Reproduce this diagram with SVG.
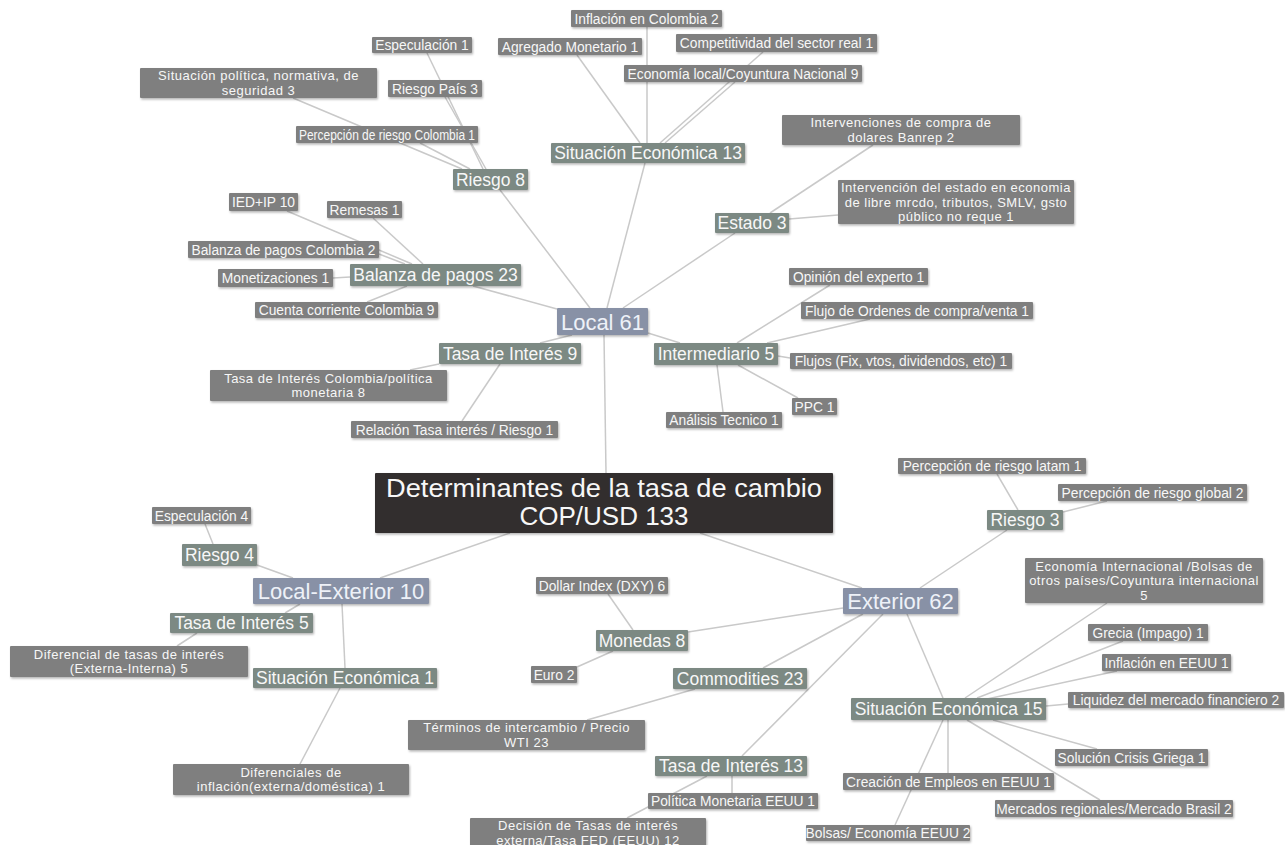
<svg xmlns="http://www.w3.org/2000/svg" width="1285" height="845" viewBox="0 0 1285 845">
<style>
text{font-family:"Liberation Sans",Arial,sans-serif;text-anchor:middle;fill:#f7f7f7}
.l rect{fill:#7f7f7f}
.l text{font-size:13.8px}
.l text.w{font-size:13px;letter-spacing:0.5px}
.m rect{fill:#7b8983}
.m text{font-size:17.5px}
.t rect{fill:#8891a6}
.t text{font-size:22px;fill:#eef1f8}
.r rect{fill:#322e2d}
.r text{font-size:26px}
#edges line{stroke:#c9c9c9;stroke-width:1.5}
rect{filter:url(#sh)}
</style>
<defs>
<filter id="sh" x="-5%" y="-20%" width="110%" height="150%"><feDropShadow dx="1" dy="1.5" stdDeviation="1" flood-color="#000" flood-opacity="0.3"/></filter>
</defs>
<rect width="1285" height="845" fill="#ffffff" style="filter:none"/>
<g id="edges">
<line x1="604" y1="335" x2="606" y2="473"/>
<line x1="510" y1="533" x2="380" y2="578"/>
<line x1="700" y1="533" x2="862" y2="588"/>
<line x1="500" y1="190" x2="590" y2="308"/>
<line x1="645" y1="163" x2="607" y2="308"/>
<line x1="735" y1="233" x2="623" y2="308"/>
<line x1="473" y1="286" x2="557" y2="309"/>
<line x1="540" y1="343" x2="572" y2="335"/>
<line x1="648" y1="333" x2="680" y2="343"/>
<line x1="427" y1="53" x2="483" y2="169"/>
<line x1="445" y1="97" x2="486" y2="169"/>
<line x1="293" y1="98" x2="462" y2="169"/>
<line x1="420" y1="143" x2="470" y2="169"/>
<line x1="647" y1="27" x2="647" y2="143"/>
<line x1="577" y1="55" x2="640" y2="143"/>
<line x1="763" y1="52" x2="660" y2="143"/>
<line x1="735" y1="82" x2="665" y2="143"/>
<line x1="770" y1="213" x2="873" y2="145"/>
<line x1="789" y1="219" x2="838" y2="215"/>
<line x1="287" y1="211" x2="412" y2="264"/>
<line x1="379" y1="254" x2="405" y2="264"/>
<line x1="373" y1="218" x2="423" y2="264"/>
<line x1="333" y1="278" x2="350" y2="277"/>
<line x1="367" y1="302" x2="407" y2="286"/>
<line x1="439" y1="364" x2="410" y2="370"/>
<line x1="500" y1="364" x2="462" y2="421"/>
<line x1="737" y1="343" x2="830" y2="285"/>
<line x1="767" y1="343" x2="870" y2="319"/>
<line x1="778" y1="356" x2="790" y2="358"/>
<line x1="738" y1="365" x2="798" y2="398"/>
<line x1="717" y1="365" x2="723" y2="412"/>
<line x1="257" y1="565" x2="293" y2="578"/>
<line x1="205" y1="524" x2="213" y2="544"/>
<line x1="300" y1="604" x2="285" y2="613"/>
<line x1="197" y1="633" x2="177" y2="646"/>
<line x1="342" y1="604" x2="345" y2="668"/>
<line x1="340" y1="688" x2="300" y2="764"/>
<line x1="920" y1="588" x2="1007" y2="530"/>
<line x1="997" y1="474" x2="1018" y2="510"/>
<line x1="1063" y1="512" x2="1107" y2="501"/>
<line x1="688" y1="632" x2="843" y2="608"/>
<line x1="763" y1="668" x2="863" y2="614"/>
<line x1="742" y1="756" x2="883" y2="614"/>
<line x1="907" y1="614" x2="943" y2="698"/>
<line x1="608" y1="594" x2="633" y2="630"/>
<line x1="577" y1="667" x2="613" y2="651"/>
<line x1="695" y1="689" x2="587" y2="720"/>
<line x1="732" y1="776" x2="732" y2="793"/>
<line x1="707" y1="776" x2="627" y2="818"/>
<line x1="965" y1="698" x2="1107" y2="603"/>
<line x1="977" y1="698" x2="1123" y2="641"/>
<line x1="987" y1="699" x2="1117" y2="671"/>
<line x1="1046" y1="706" x2="1068" y2="704"/>
<line x1="993" y1="720" x2="1097" y2="749"/>
<line x1="967" y1="720" x2="1100" y2="800"/>
<line x1="948" y1="720" x2="948" y2="773"/>
<line x1="943" y1="720" x2="895" y2="825"/>
</g>

<g id="root" class="r"><rect x="375" y="473" width="458" height="60" rx="1"/><text x="604" y="497" textLength="436" lengthAdjust="spacingAndGlyphs">Determinantes de la tasa de cambio</text><text x="604" y="525">COP/USD 133</text></g>

<g id="local" class="t"><rect x="557" y="308" width="91" height="27" rx="1"/><text x="602.5" y="329.5">Local 61</text></g>
<g id="localext" class="t"><rect x="253" y="578" width="176" height="26" rx="1"/><text x="341" y="599">Local-Exterior 10</text></g>
<g id="exterior" class="t"><rect x="843" y="588" width="115" height="26" rx="1"/><text x="900.5" y="609">Exterior 62</text></g>

<g id="riesgo8" class="m"><rect x="453" y="169" width="75" height="21" rx="1"/><text x="490.5" y="185.8">Riesgo 8</text></g>
<g id="sitecon13" class="m"><rect x="551" y="143" width="194" height="20" rx="1"/><text x="648" y="159.3">Situación Económica 13</text></g>
<g id="estado3" class="m"><rect x="715" y="213" width="74" height="20" rx="1"/><text x="752" y="229.3">Estado 3</text></g>
<g id="balanza23" class="m"><rect x="350" y="264" width="171" height="22" rx="1"/><text x="435.5" y="281.3">Balanza de pagos 23</text></g>
<g id="tasa9" class="m"><rect x="439" y="343" width="142" height="21" rx="1"/><text x="510" y="359.8">Tasa de Interés 9</text></g>
<g id="interm5" class="m"><rect x="654" y="343" width="124" height="22" rx="1"/><text x="716" y="360.3">Intermediario 5</text></g>
<g id="riesgo4" class="m"><rect x="182" y="544" width="75" height="22" rx="1"/><text x="219.5" y="561.3">Riesgo 4</text></g>
<g id="tasa5" class="m"><rect x="170" y="613" width="143" height="20" rx="1"/><text x="241.5" y="629.3">Tasa de Interés 5</text></g>
<g id="sitecon1" class="m"><rect x="253" y="668" width="184" height="20" rx="1"/><text x="345" y="684.3">Situación Económica 1</text></g>
<g id="riesgo3" class="m"><rect x="987" y="510" width="76" height="20" rx="1"/><text x="1025" y="526.3">Riesgo 3</text></g>
<g id="monedas8" class="m"><rect x="596" y="630" width="92" height="21" rx="1"/><text x="642" y="646.8">Monedas 8</text></g>
<g id="commod23" class="m"><rect x="673" y="668" width="134" height="21" rx="1"/><text x="740" y="684.8">Commodities 23</text></g>
<g id="tasa13" class="m"><rect x="655" y="756" width="152" height="20" rx="1"/><text x="731" y="772.3">Tasa de Interés 13</text></g>
<g id="sitecon15" class="m"><rect x="851" y="698" width="195" height="22" rx="1"/><text x="948.5" y="715.3">Situación Económica 15</text></g>

<g id="n1" class="l"><rect x="372" y="37" width="100" height="16" rx="1"/><text x="422" y="50">Especulación 1</text></g>
<g id="n2" class="l"><rect x="140" y="68" width="237" height="30" rx="1"/><text class="w" x="258.5" y="80">Situación política, normativa, de</text><text class="w" x="258.5" y="94.5">seguridad 3</text></g>
<g id="n3" class="l"><rect x="388" y="80" width="94" height="17" rx="1"/><text x="435" y="93.5">Riesgo País 3</text></g>
<g id="n4" class="l"><rect x="296" y="126" width="182" height="17" rx="1"/><text x="387" y="139.5" textLength="176" lengthAdjust="spacingAndGlyphs">Percepción de riesgo Colombia 1</text></g>
<g id="n5" class="l"><rect x="571" y="10" width="151" height="17" rx="1"/><text x="646.5" y="23.5">Inflación en Colombia 2</text></g>
<g id="n6" class="l"><rect x="498" y="38" width="144" height="17" rx="1"/><text x="570" y="51.5">Agregado Monetario 1</text></g>
<g id="n7" class="l"><rect x="676" y="34" width="201" height="18" rx="1"/><text x="776.5" y="48">Competitividad del sector real 1</text></g>
<g id="n8" class="l"><rect x="624" y="65" width="238" height="17" rx="1"/><text x="743" y="78.5">Economía local/Coyuntura Nacional 9</text></g>
<g id="n9" class="l"><rect x="782" y="115" width="238" height="30" rx="1"/><text class="w" x="901" y="127">Intervenciones de compra de</text><text class="w" x="901" y="141.5">dolares Banrep 2</text></g>
<g id="n10" class="l"><rect x="838" y="180" width="236" height="44" rx="1"/><text class="w" x="956" y="192">Intervención del estado en economia</text><text class="w" x="956" y="206.5">de libre mrcdo, tributos, SMLV, gsto</text><text class="w" x="956" y="221">público no reque 1</text></g>
<g id="n11" class="l"><rect x="229" y="193" width="69" height="18" rx="1"/><text x="263.5" y="207">IED+IP 10</text></g>
<g id="n12" class="l"><rect x="327" y="201" width="75" height="17" rx="1"/><text x="364.5" y="214.5">Remesas 1</text></g>
<g id="n13" class="l"><rect x="188" y="241" width="191" height="17" rx="1"/><text x="283.5" y="254.5">Balanza de pagos Colombia 2</text></g>
<g id="n14" class="l"><rect x="218" y="269" width="115" height="18" rx="1"/><text x="275.5" y="283">Monetizaciones 1</text></g>
<g id="n15" class="l"><rect x="255" y="302" width="183" height="16" rx="1"/><text x="346.5" y="315">Cuenta corriente Colombia 9</text></g>
<g id="n16" class="l"><rect x="789" y="268" width="139" height="17" rx="1"/><text x="858.5" y="281.5">Opinión del experto 1</text></g>
<g id="n17" class="l"><rect x="801" y="302" width="232" height="17" rx="1"/><text x="917" y="315.5">Flujo de Ordenes de compra/venta 1</text></g>
<g id="n18" class="l"><rect x="790" y="353" width="222" height="16" rx="1"/><text x="901" y="366">Flujos (Fix, vtos, dividendos, etc) 1</text></g>
<g id="n19" class="l"><rect x="792" y="398" width="45" height="17" rx="1"/><text x="814.5" y="411.5">PPC 1</text></g>
<g id="n20" class="l"><rect x="666" y="412" width="116" height="16" rx="1"/><text x="724" y="425">Análisis Tecnico 1</text></g>
<g id="n21" class="l"><rect x="210" y="370" width="237" height="31" rx="1"/><text class="w" x="328.5" y="382.5">Tasa de Interés Colombia/política</text><text class="w" x="328.5" y="397">monetaria 8</text></g>
<g id="n22" class="l"><rect x="351" y="421" width="207" height="17" rx="1"/><text x="454.5" y="434.5">Relación Tasa interés / Riesgo 1</text></g>
<g id="n23" class="l"><rect x="152" y="507" width="99" height="17" rx="1"/><text x="201.5" y="520.5">Especulación 4</text></g>
<g id="n24" class="l"><rect x="10" y="646" width="238" height="31" rx="1"/><text class="w" x="129" y="658.5">Diferencial de tasas de interés</text><text class="w" x="129" y="673">(Externa-Interna) 5</text></g>
<g id="n25" class="l"><rect x="173" y="764" width="236" height="31" rx="1"/><text class="w" x="291" y="776.5">Diferenciales de</text><text class="w" x="291" y="791">inflación(externa/doméstica) 1</text></g>
<g id="n26" class="l"><rect x="536" y="577" width="132" height="17" rx="1"/><text x="602" y="590.5">Dollar Index (DXY) 6</text></g>
<g id="n27" class="l"><rect x="531" y="666" width="46" height="17" rx="1"/><text x="554" y="679.5">Euro 2</text></g>
<g id="n28" class="l"><rect x="408" y="720" width="237" height="30" rx="1"/><text class="w" x="526.5" y="732">Términos de intercambio / Precio</text><text class="w" x="526.5" y="746.5">WTI 23</text></g>
<g id="n29" class="l"><rect x="648" y="793" width="170" height="16" rx="1"/><text x="733" y="806">Política Monetaria EEUU 1</text></g>
<g id="n30" class="l"><rect x="470" y="818" width="236" height="30" rx="1"/><text class="w" x="588" y="830">Decisión de Tasas de interés</text><text class="w" x="588" y="844.5">externa/Tasa FED (EEUU) 12</text></g>
<g id="n31" class="l"><rect x="898" y="458" width="188" height="16" rx="1"/><text x="992" y="471">Percepción de riesgo latam 1</text></g>
<g id="n32" class="l"><rect x="1058" y="484" width="189" height="17" rx="1"/><text x="1152.5" y="497.5">Percepción de riesgo global 2</text></g>
<g id="n33" class="l"><rect x="1025" y="558" width="238" height="45" rx="1"/><text class="w" x="1144" y="570.5">Economía Internacional /Bolsas de</text><text class="w" x="1144" y="585">otros países/Coyuntura internacional</text><text class="w" x="1144" y="599.5">5</text></g>
<g id="n34" class="l"><rect x="1088" y="624" width="120" height="17" rx="1"/><text x="1148" y="637.5">Grecia (Impago) 1</text></g>
<g id="n35" class="l"><rect x="1102" y="654" width="129" height="17" rx="1"/><text x="1166.5" y="667.5">Inflación en EEUU 1</text></g>
<g id="n36" class="l"><rect x="1068" y="692" width="216" height="16" rx="1"/><text x="1176" y="705">Liquidez del mercado financiero 2</text></g>
<g id="n37" class="l"><rect x="1055" y="749" width="153" height="17" rx="1"/><text x="1131.5" y="762.5">Solución Crisis Griega 1</text></g>
<g id="n38" class="l"><rect x="843" y="773" width="211" height="17" rx="1"/><text x="948.5" y="786.5">Creación de Empleos en EEUU 1</text></g>
<g id="n39" class="l"><rect x="995" y="800" width="238" height="17" rx="1"/><text x="1114" y="813.5">Mercados regionales/Mercado Brasil 2</text></g>
<g id="n40" class="l"><rect x="806" y="825" width="164" height="16" rx="1"/><text x="888" y="838">Bolsas/ Economía EEUU 2</text></g>
</svg>
